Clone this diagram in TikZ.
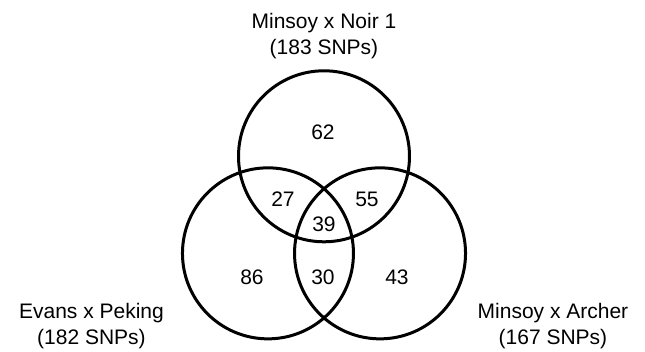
\documentclass[tikz,border=0pt]{standalone}
\usepackage{fontspec}
\setmainfont{Liberation Sans}
\usetikzlibrary{positioning}
\tikzset{
  set/.style={draw, circle, line width=3pt, minimum size=171pt, inner sep=0pt},
  count/.style={font=\fontsize{21}{26}\selectfont},
  title/.style={align=center, font=\fontsize{21}{26}\selectfont},
}
\begin{document}
\begin{tikzpicture}[x=1pt,y=1pt]
      \useasboundingbox (-324,-131) rectangle (321,221);
      \draw
        (90:64.7) node[set] (noir){}
        (210:64.7) node[set] (peking){}
        (330:64.7) node[set] (archer){};
      \draw
        (-1,89) node[count] (n62){62}
        (-41,22) node[count] (n27){27}
        (43,22) node[count] (n55){55}
        (0,-3) node[count] (n39){39}
        (-72,-56) node[count] (n86){86}
        (-1,-56) node[count] (n30){30}
        (73,-56) node[count] (n43){43};
      \draw
        (0,184.5) node[title] (tnoir){Minsoy x Noir 1\\(183 SNPs)}
        (-232.5,-105.5) node[title] (tpeking){Evans x Peking\\(182 SNPs)}
        (229,-105.5) node[title] (tarcher){Minsoy x Archer\\(167 SNPs)};
    \end{tikzpicture}
\end{document}
